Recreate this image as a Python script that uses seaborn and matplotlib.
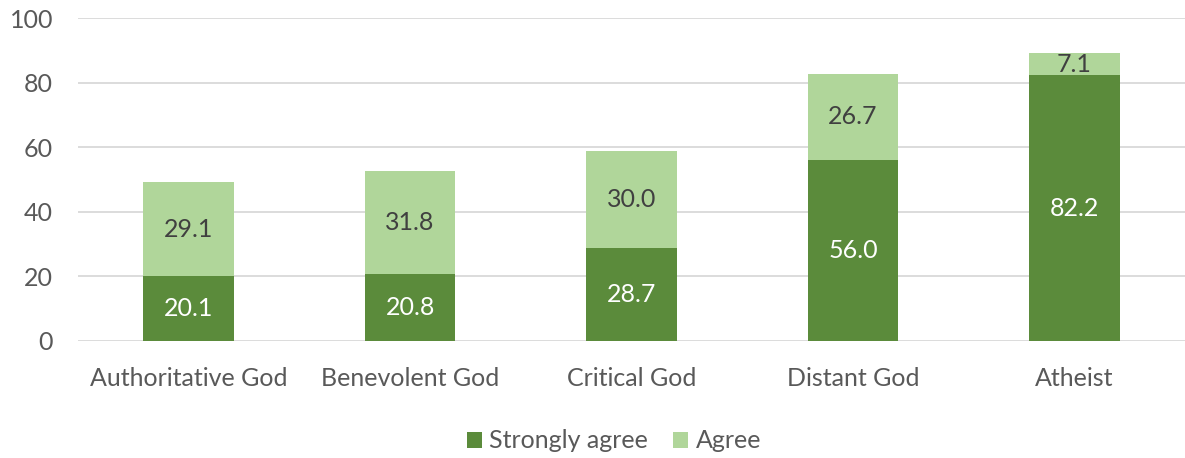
import matplotlib
matplotlib.use("Agg")
import matplotlib.pyplot as plt
import seaborn as sns
import pandas as pd
import numpy as np

categories = ["Authoritative God", "Benevolent God", "Critical God", "Distant God", "Atheist"]
strongly_agree = [20.1, 20.8, 28.7, 56.0, 82.2]
agree = [29.1, 31.8, 30.0, 26.7, 7.1]
series_names = ["Strongly agree", "Agree"]
yticks = [0, 20, 40, 60, 80, 100]

sns.set_theme(style="white")
plt.rcParams['font.family'] = ['Lato', 'DejaVu Sans']

dark = "#5B8B3B"
light = "#B0D69A"

fig = plt.figure(figsize=(11.85, 4.58), dpi=100)
ax = fig.add_axes([78/1185, 1 - 341/458, (1185 - 78)/1185, (341 - 18)/458])

df = pd.DataFrame({"category": categories, "strong": strongly_agree, "agree": agree})
df["total"] = df["strong"] + df["agree"]

sns.barplot(data=df, x="category", y="total", color=light, width=0.41, ax=ax,
            saturation=1, label=series_names[1], zorder=2, linewidth=0)
sns.barplot(data=df, x="category", y="strong", color=dark, width=0.41, ax=ax,
            saturation=1, label=series_names[0], zorder=3, linewidth=0)
if ax.get_legend() is not None:
    ax.get_legend().remove()

for i, (s, a) in enumerate(zip(strongly_agree, agree)):
    ax.text(i, s / 2, f"{s:.1f}", ha="center", va="center", color="white", fontsize=18, zorder=4)
    ax.text(i, s + a / 2, f"{a:.1f}", ha="center", va="center", color="#404040", fontsize=18, zorder=4)

ax.set_ylim(0, 100)
ax.set_yticks(yticks)
ax.set_xlim(-0.5, 4.5)
ax.yaxis.grid(True, color="#D9D9D9", linewidth=1.3, zorder=0)
ax.set_axisbelow(True)
for sp in ax.spines.values():
    sp.set_visible(False)
ax.set_xlabel("")
ax.set_ylabel("")
ax.tick_params(axis="y", labelsize=18, labelcolor="#595959", length=0, pad=18)
ax.tick_params(axis="x", labelsize=18, labelcolor="#595959", length=0, pad=19)

handles, labels = ax.get_legend_handles_labels()
order = [labels.index(n) for n in series_names]
fig.legend([handles[k] for k in order], [labels[k] for k in order],
           loc="center", bbox_to_anchor=(614/1185, 1 - 441/458), ncol=2, frameon=False,
           fontsize=18, handlelength=0.6, handleheight=0.6, columnspacing=1.0,
           handletextpad=0.3, labelcolor="#595959")

fig.savefig("out.png", dpi=100)
